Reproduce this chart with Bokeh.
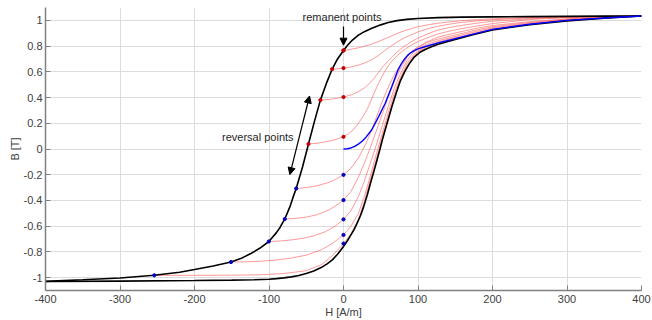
from bokeh.plotting import figure
from bokeh.models import Range1d, FixedTicker, CustomJSTickFormatter, Arrow, NormalHead, Label
from bokeh.embed import file_html
from bokeh.resources import INLINE

# ---------------- data ----------------
# descending major branch (upper, black)
upper_H = [-400, -350, -300, -254, -220, -200, -175, -151, -138, -125, -112, -100.2, -90, -85, -78.8, -72,
           -68, -63.5, -55, -47, -39, -31, -23, -15.2, -8, 0, 6, 12, 20, 28, 38, 50, 60, 72, 85, 100, 127,
           160, 200, 250, 300, 350, 400]
upper_B = [-1.029, -1.017, -1.003, -0.982, -0.958, -0.937, -0.91, -0.879, -0.852, -0.815, -0.77, -0.719,
           -0.65, -0.608, -0.544, -0.45, -0.38, -0.307, -0.14, 0.039, 0.215, 0.38, 0.51, 0.621, 0.70, 0.766,
           0.81, 0.847, 0.885, 0.912, 0.938, 0.965, 0.983, 0.998, 1.008, 1.015, 1.021, 1.025, 1.027, 1.029,
           1.031, 1.033, 1.034]

# ascending major branch (lower, black)
lower_H = [-400, -300, -200, -150, -120, -100, -90, -80, -70, -60, -50, -40, -30, -22, -15, -8, 0, 5, 9,
           14, 18, 23, 27, 32, 36, 41, 45, 49, 52, 56, 60, 65, 71, 76, 82, 88, 95, 102, 109, 118, 127, 150,
           175, 200, 250, 300, 350, 400]
lower_B = [-1.03, -1.027, -1.022, -1.019, -1.016, -1.012, -1.008, -1.002, -0.994, -0.983, -0.968, -0.948,
           -0.922, -0.893, -0.862, -0.818, -0.758, -0.715, -0.677, -0.628, -0.58, -0.515, -0.45, -0.355,
           -0.27, -0.17, -0.085, 0.0, 0.068, 0.15, 0.23, 0.33, 0.44, 0.525, 0.60, 0.66, 0.715, 0.75, 0.772,
           0.795, 0.815, 0.852, 0.89, 0.925, 0.966, 0.996, 1.016, 1.034]

# initial magnetisation curve (blue)
init_H = [0, 5, 10, 15, 20, 25, 30, 38, 47, 56, 64.7, 73, 78, 82, 86, 90, 95, 100, 110, 127, 150, 200,
          250, 300, 350, 400]
init_B = [0, 0.002, 0.008, 0.02, 0.038, 0.06, 0.09, 0.15, 0.25, 0.356, 0.484, 0.613, 0.665, 0.70, 0.728,
          0.748, 0.765, 0.778, 0.797, 0.825, 0.858, 0.93, 0.97, 1.0, 1.018, 1.034]

# first-order reversal curves (red)
forc0_H = [0, 10, 20, 30, 40, 50, 60, 70, 82, 100, 115, 127, 145, 160, 180, 200, 250, 300, 350, 400]
forc0_B = [0.766, 0.775, 0.787, 0.802, 0.82, 0.843, 0.868, 0.893, 0.92, 0.95, 0.967, 0.978, 0.99, 0.998,
           1.006, 1.012, 1.022, 1.028, 1.031, 1.034]

forc1_H = [-15.2, -8, 0, 10, 20, 30, 38, 45, 52, 60, 70, 82, 100, 115, 127, 145, 160, 180, 200, 250, 300, 350, 400]
forc1_B = [0.621, 0.624, 0.629, 0.638, 0.652, 0.672, 0.695, 0.72, 0.75, 0.785, 0.825, 0.865, 0.91, 0.938,
           0.955, 0.973, 0.985, 0.996, 1.005, 1.018, 1.026, 1.031, 1.034]

forc2_H = [-31, -20, -10, 0, 10, 20, 28, 35, 41, 47, 53, 59, 65, 73, 82, 92, 100, 115, 127, 145, 160, 180,
           200, 250, 300, 350, 400]
forc2_B = [0.38, 0.385, 0.393, 0.404, 0.42, 0.445, 0.475, 0.51, 0.55, 0.595, 0.64, 0.68, 0.716, 0.76, 0.80,
           0.838, 0.862, 0.9, 0.925, 0.948, 0.962, 0.979, 0.993, 1.012, 1.024, 1.03, 1.034]

forc3_H = [-47, -35, -20, -10, 0, 7, 14, 20, 27, 33.5, 40, 47, 54, 60, 66, 72, 80, 90, 100, 115, 127, 145,
           160, 180, 200, 250, 300, 350, 400]
forc3_B = [0.039, 0.045, 0.06, 0.075, 0.095, 0.12, 0.155, 0.2, 0.26, 0.33, 0.42, 0.51, 0.59, 0.645, 0.69,
           0.725, 0.765, 0.805, 0.835, 0.87, 0.895, 0.92, 0.937, 0.957, 0.975, 1.006, 1.021, 1.029, 1.034]

forc4_H = [-63.5, -50, -35, -20, -10, 0, 10, 20, 30, 38, 45, 52, 60, 67, 75, 85, 92, 100, 113, 127, 145,
           160, 180, 200, 250, 300, 350, 400]
forc4_B = [-0.307, -0.30, -0.285, -0.26, -0.235, -0.201, -0.15, -0.07, 0.04, 0.15, 0.26, 0.37, 0.48, 0.565,
           0.64, 0.715, 0.755, 0.79, 0.835, 0.87, 0.895, 0.915, 0.94, 0.96, 0.99, 1.012, 1.025, 1.034]

forc5_H = [-78.8, -65, -50, -35, -20, -10, 0, 10, 20, 28, 36, 44, 52, 60, 68, 76, 85, 92, 100, 113, 127,
           145, 160, 180, 200, 250, 300, 350, 400]
forc5_B = [-0.544, -0.54, -0.53, -0.51, -0.475, -0.44, -0.397, -0.33, -0.22, -0.11, 0.01, 0.14, 0.27, 0.40,
           0.52, 0.62, 0.71, 0.762, 0.795, 0.83, 0.855, 0.88, 0.9, 0.927, 0.95, 0.984, 1.008, 1.023, 1.034]

forc6_H = [-100.2, -85, -70, -55, -40, -25, -10, 0, 10, 20, 28, 36, 44, 52, 60, 68, 76, 85, 92, 100, 113,
           127, 145, 160, 180, 200, 250, 300, 350, 400]
forc6_B = [-0.719, -0.715, -0.707, -0.695, -0.675, -0.645, -0.595, -0.547, -0.48, -0.37, -0.25, -0.11, 0.03,
           0.18, 0.33, 0.47, 0.58, 0.685, 0.74, 0.78, 0.815, 0.842, 0.868, 0.888, 0.917, 0.942, 0.978, 1.005,
           1.021, 1.034]

forc7_H = [-151, -130, -110, -90, -70, -50, -30, -15, 0, 10, 20, 28, 36, 44, 52, 60, 68, 76, 85, 92, 100,
           113, 127, 145, 160, 180, 200, 250, 300, 350, 400]
forc7_B = [-0.879, -0.877, -0.872, -0.863, -0.848, -0.825, -0.785, -0.735, -0.668, -0.6, -0.5, -0.37, -0.21,
           -0.04, 0.12, 0.28, 0.43, 0.55, 0.66, 0.72, 0.765, 0.8, 0.832, 0.86, 0.878, 0.908, 0.935, 0.973,
           1.002, 1.019, 1.034]

forc8_H = [-254, -200, -150, -111, -80, -50, -30, -15, 0, 10, 20, 28, 36, 44, 52, 60, 68, 76, 85, 92, 100,
           113, 127, 145, 160, 180, 200, 250, 300, 350, 400]
forc8_B = [-0.982, -0.982, -0.981, -0.978, -0.968, -0.946, -0.9, -0.83, -0.735, -0.66, -0.55, -0.41, -0.24,
           -0.08, 0.09, 0.25, 0.40, 0.535, 0.64, 0.705, 0.757, 0.792, 0.825, 0.852, 0.872, 0.902, 0.93, 0.97,
           0.999, 1.018, 1.034]

forcs_H = [forc0_H, forc1_H, forc2_H, forc3_H, forc4_H, forc5_H, forc6_H, forc7_H, forc8_H]
forcs_B = [forc0_B, forc1_B, forc2_B, forc3_B, forc4_B, forc5_B, forc6_B, forc7_B, forc8_B]

# reversal points (on the upper branch) and remanent points (at H = 0)
rev_H = [0, -15.2, -31, -47, -63.5, -78.8, -100.2, -151, -254]
rev_B = [0.766, 0.621, 0.38, 0.039, -0.307, -0.544, -0.719, -0.879, -0.982]
rem_H = [0, 0, 0, 0, 0, 0, 0, 0, 0]
rem_B = [0.766, 0.629, 0.404, 0.095, -0.201, -0.397, -0.547, -0.668, -0.735]

x_ticks = [-400, -300, -200, -100, 0, 100, 200, 300, 400]
y_ticks = [-1, -0.8, -0.6, -0.4, -0.2, 0, 0.2, 0.4, 0.6, 0.8, 1]

# ---------------- figure ----------------
FONT = "Liberation Sans"
AXC = "#808080"
TXT = "#404040"

p = figure(width=652, height=320, output_backend="svg", toolbar_location=None,
           x_range=Range1d(-400, 400), y_range=Range1d(-1.1, 1.1),
           min_border_left=45, min_border_right=11, min_border_top=7, min_border_bottom=29)
p.outline_line_color = None
p.background_fill_color = "white"

for ax in (p.xaxis[0], p.yaxis[0]):
    ax.axis_line_color = AXC
    ax.axis_line_width = 1.5
    ax.major_tick_line_color = AXC
    ax.major_tick_in = 5
    ax.major_tick_out = 0
    ax.minor_tick_line_color = None
    ax.major_label_text_font = FONT
    ax.major_label_text_font_size = "11px"
    ax.major_label_text_color = TXT
    ax.axis_label_text_font = FONT
    ax.axis_label_text_font_size = "11px"
    ax.axis_label_text_font_style = "normal"
    ax.axis_label_text_color = TXT
    ax.formatter = CustomJSTickFormatter(code="return tick.toString();")

p.xaxis.ticker = FixedTicker(ticks=x_ticks)
p.yaxis.ticker = FixedTicker(ticks=y_ticks)
p.xaxis.axis_label = "H [A/m]"
p.yaxis.axis_label = "B [T]"
p.xaxis.major_label_standoff = 4
p.yaxis.major_label_standoff = 3
p.xaxis.axis_label_standoff = 0
p.yaxis.axis_label_standoff = 0

p.grid.grid_line_color = "#dcdcdc"
p.grid.grid_line_width = 1
p.xgrid.ticker = FixedTicker(ticks=x_ticks)
p.ygrid.ticker = FixedTicker(ticks=y_ticks)

# reversal curves
for hh, bb in zip(forcs_H, forcs_B):
    p.line(hh, bb, line_color="#ff6060", line_width=0.8, line_alpha=0.8)

# major loop and initial curve
p.line(upper_H, upper_B, line_color="black", line_width=1.6)
p.line(lower_H, lower_B, line_color="black", line_width=1.6)
p.line(init_H, init_B, line_color="#0000ff", line_width=1.4)

# points
pt_colors = ["#c00000" if b > 0 else "#0000c0" for b in rem_B]
p.scatter(rev_H, rev_B, size=3.2, marker="circle", fill_color=pt_colors, line_color=pt_colors)
p.scatter(rem_H, rem_B, size=3.2, marker="circle", fill_color=pt_colors, line_color=pt_colors)

# annotations
p.add_layout(Arrow(end=NormalHead(size=7, fill_color="black", line_color="black"),
                   x_start=0, y_start=0.953, x_end=0, y_end=0.807,
                   line_color="black", line_width=1.2))
p.add_layout(Arrow(start=NormalHead(size=7, fill_color="black", line_color="black"),
                   end=NormalHead(size=7, fill_color="black", line_color="black"),
                   x_start=-72, y_start=-0.199, x_end=-45.6, y_end=0.412,
                   line_color="black", line_width=1.2))
p.add_layout(Label(x=-2, y=1.023, text="remanent points", text_align="center",
                   text_baseline="middle", text_font=FONT, text_font_size="11px",
                   text_color="#262626"))
p.add_layout(Label(x=-67, y=0.093, text="reversal points", text_align="right",
                   text_baseline="middle", text_font=FONT, text_font_size="11px",
                   text_color="#262626"))

open("out.html", "w").write(file_html(p, INLINE))
